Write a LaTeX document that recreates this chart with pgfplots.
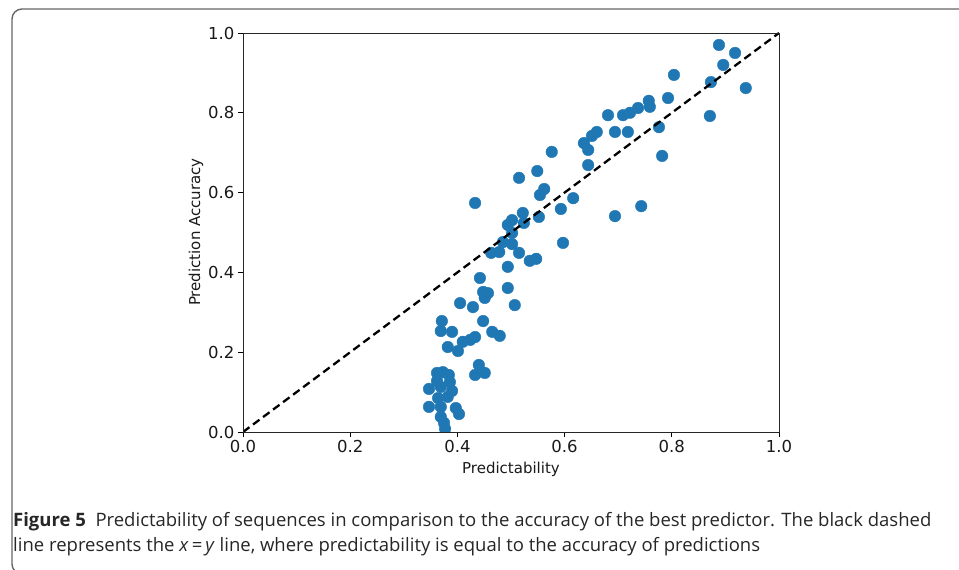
\documentclass[border=0pt]{standalone}
\usepackage{fontspec}
\setmainfont{DejaVu Sans}
\newfontfamily\capfont{Open Sans}
\usepackage{pgfplots}
\usepackage{pgfplotstable}
\pgfplotsset{compat=1.18}
\definecolor{c0}{HTML}{1F77B4}
\pgfplotstableread{
x y
0.888 0.970
0.918 0.950
0.896 0.920
0.804 0.895
0.873 0.877
0.938 0.862
0.793 0.837
0.757 0.830
0.759 0.815
0.737 0.812
0.722 0.800
0.709 0.794
0.681 0.794
0.871 0.792
0.694 0.752
0.718 0.752
0.660 0.752
0.651 0.742
0.776 0.764
0.636 0.724
0.644 0.707
0.576 0.702
0.782 0.692
0.644 0.669
0.549 0.654
0.562 0.609
0.554 0.594
0.515 0.637
0.433 0.574
0.616 0.586
0.593 0.559
0.694 0.541
0.743 0.566
0.552 0.539
0.522 0.549
0.502 0.531
0.494 0.519
0.524 0.524
0.502 0.499
0.485 0.476
0.502 0.471
0.478 0.451
0.463 0.449
0.515 0.449
0.597 0.474
0.535 0.429
0.547 0.434
0.494 0.414
0.442 0.386
0.448 0.351
0.457 0.348
0.451 0.336
0.494 0.361
0.507 0.318
0.405 0.323
0.429 0.313
0.448 0.278
0.371 0.278
0.369 0.253
0.390 0.251
0.465 0.251
0.479 0.241
0.433 0.238
0.424 0.231
0.410 0.226
0.382 0.213
0.401 0.203
0.440 0.168
0.433 0.143
0.451 0.148
0.362 0.148
0.373 0.150
0.384 0.143
0.362 0.128
0.386 0.125
0.347 0.108
0.369 0.113
0.390 0.103
0.364 0.085
0.382 0.088
0.347 0.063
0.369 0.063
0.397 0.060
0.403 0.045
0.369 0.038
0.375 0.023
0.377 0.008
}\pts
\begin{document}
\begin{tikzpicture}[x=1pt,y=1pt]
\useasboundingbox (0,0) rectangle (959,570);
\draw[line width=1.4pt, color=black!60, rounded corners=10pt] (40,-4) -- (12,-4) -- (12,561) -- (985,561);
\begin{axis}[
  at={(243pt,138pt)}, anchor=south west,
  scale only axis, width=536pt, height=399pt,
  xmin=0, xmax=1, ymin=0, ymax=1,
  xtick={0,0.2,0.4,0.6,0.8,1.0}, ytick={0,0.2,0.4,0.6,0.8,1.0},
  tick align=outside, major tick length=5pt, tick pos=left,
  tick style={black, line width=0.9pt},
  axis line style={line width=0.9pt, black!85},
  axis on top,
  clip marker paths=true,
  xticklabel={\pgfmathprintnumber[fixed,fixed zerofill,precision=1,assume math mode=true]{\tick}},
  yticklabel={\pgfmathprintnumber[fixed,fixed zerofill,precision=1,assume math mode=true]{\tick}},
  ticklabel style={font=\fontsize{16.5}{16.5}\selectfont, color=black!90},
  xlabel={Predictability},
  ylabel={Prediction Accuracy},
  label style={font=\fontsize{15}{15}\selectfont, color=black!90},
  xlabel style={at={(axis description cs:0.5,-0.0927)}, anchor=center},
  ylabel style={at={(axis description cs:-0.0877,0.501)}, anchor=center, rotate=0},
]
\addplot[only marks, mark=*, mark size=5.8pt, color=c0, mark options={fill=c0, draw=none}] table[x=x,y=y] {\pts};
\addplot[black, line width=2.3pt, dash pattern=on 8pt off 4.5pt] coordinates {(0,0) (1,1)};
\end{axis}
\node[anchor=base west, inner sep=0pt, font=\capfont\fontsize{18.5}{25}\selectfont, color=black!85] at (13,43) {\textbf{Figure 5}\ \ Predictability of sequences in comparison to the accuracy of the best predictor. The black dashed};
\node[anchor=base west, inner sep=0pt, font=\capfont\fontsize{18.5}{25}\selectfont, color=black!85] at (13,18) {line represents the \textit{x}\,=\,\textit{y} line, where predictability is equal to the accuracy of predictions};
\end{tikzpicture}
\end{document}
